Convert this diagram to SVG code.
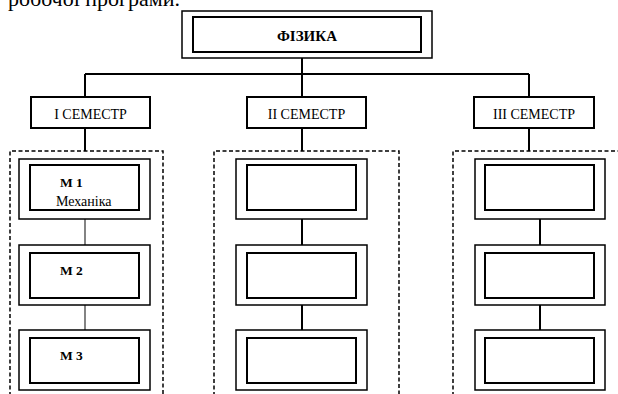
<svg xmlns="http://www.w3.org/2000/svg" width="618" height="394" viewBox="0 0 618 394">
<style>
.t{font-family:"Liberation Serif","Times New Roman",serif;fill:#000}
.b{font-weight:bold}
.outer{fill:#fff;stroke:#000;stroke-width:1.5}
.inner{fill:#fff;stroke:#000;stroke-width:2}
.sem{fill:#fff;stroke:#000;stroke-width:2}
.dash{fill:none;stroke:#000;stroke-width:1.5;stroke-dasharray:4 2.5}
.c{fill:none;stroke:#000;stroke-width:2}
.c1{fill:none;stroke:#333;stroke-width:1.2}
</style>
<rect width="618" height="394" fill="#fff"/>
<text class="t" x="8" y="6" font-size="22">робочої програми.</text>

<g id="connectors">
<path class="c" d="M302 58V74M85 74H529M85 74V97M302 74V97M529 74V97"/>
<path class="c" d="M85 128V151M302 128V151M529 128V151"/>
<path class="c1" d="M85 219V245M85 305V330"/>
<path class="c" d="M302 219V245M302 305V330M540 219V245M540 305V330"/>
</g>

<g id="fizyka">
<rect class="outer" x="182" y="11" width="250" height="47"/>
<rect class="inner" x="193" y="17" width="228" height="35"/>
<text class="t b" x="307" y="41" font-size="15" text-anchor="middle">ФІЗИКА</text>
</g>

<g id="sem1">
<rect class="sem" x="31" y="97" width="119" height="31"/>
<text class="t" x="90.5" y="119" font-size="14" text-anchor="middle">I СЕМЕСТР</text>
</g>
<g id="sem2">
<rect class="sem" x="247" y="97" width="119" height="31"/>
<text class="t" x="306.5" y="119" font-size="14" text-anchor="middle">II СЕМЕСТР</text>
</g>
<g id="sem3">
<rect class="sem" x="474" y="97" width="120" height="31"/>
<text class="t" x="534" y="119" font-size="14" text-anchor="middle">III СЕМЕСТР</text>
</g>

<g id="group1"><path class="dash" d="M10 396V151H163V396"/></g>
<g id="group2"><path class="dash" d="M214 396V151H399V396"/></g>
<g id="group3"><path class="dash" d="M453 396V151H620"/></g>

<g id="m1">
<rect class="outer" x="19" y="159" width="131" height="60"/>
<rect class="inner" x="30" y="165" width="109" height="45"/>
<text class="t b" x="60" y="187" font-size="13.5">М 1</text>
<text class="t" x="56" y="206" font-size="14">Механіка</text>
</g>
<g id="m2">
<rect class="outer" x="19" y="245" width="131" height="60"/>
<rect class="inner" x="30" y="253" width="109" height="45"/>
<text class="t b" x="60" y="275" font-size="13.5">М 2</text>
</g>
<g id="m3">
<rect class="outer" x="19" y="330" width="131" height="60"/>
<rect class="inner" x="30" y="338" width="109" height="45"/>
<text class="t b" x="60" y="360" font-size="13.5">М 3</text>
</g>

<g id="n2a">
<rect class="outer" x="236" y="159" width="131" height="60"/>
<rect class="inner" x="247" y="165" width="109" height="45"/>
</g>
<g id="n2b">
<rect class="outer" x="236" y="245" width="131" height="60"/>
<rect class="inner" x="247" y="253" width="109" height="45"/>
</g>
<g id="n2c">
<rect class="outer" x="236" y="330" width="131" height="60"/>
<rect class="inner" x="247" y="338" width="109" height="45"/>
</g>

<g id="n3a">
<rect class="outer" x="475" y="159" width="130" height="60"/>
<rect class="inner" x="485" y="165" width="109" height="45"/>
</g>
<g id="n3b">
<rect class="outer" x="475" y="245" width="130" height="60"/>
<rect class="inner" x="485" y="253" width="109" height="45"/>
</g>
<g id="n3c">
<rect class="outer" x="475" y="330" width="130" height="60"/>
<rect class="inner" x="485" y="338" width="109" height="45"/>
</g>
</svg>
